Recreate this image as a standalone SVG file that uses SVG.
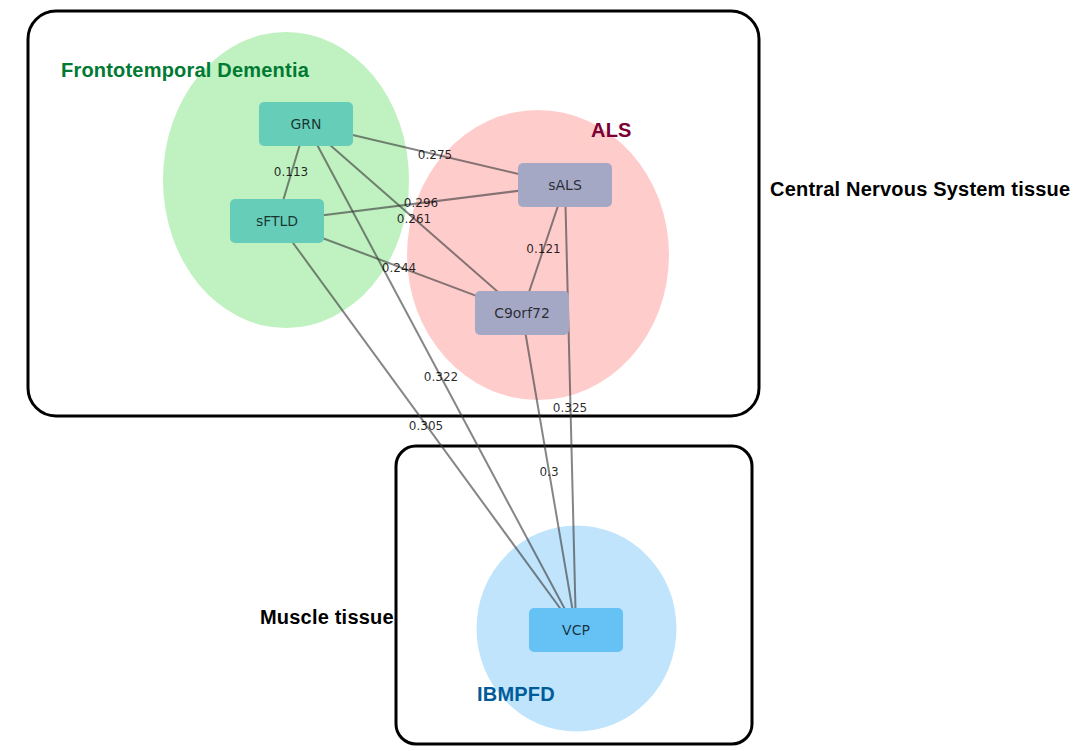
<svg xmlns="http://www.w3.org/2000/svg" width="1084" height="751" viewBox="0 0 1084 751">
<style>
.box{fill:none;stroke:#000;stroke-width:3}
.grp{font-family:"Liberation Sans",Arial,sans-serif;font-weight:bold;font-size:20px;letter-spacing:0.2px}
.edge{stroke:#3A3A3A;stroke-opacity:0.62;stroke-width:2;fill:none}
.elab{font-family:"DejaVu Sans",sans-serif;font-size:12px;fill:#000;fill-opacity:0.85;text-anchor:middle;dominant-baseline:central}
.nlab{font-family:"DejaVu Sans",sans-serif;font-size:14px;text-anchor:middle;dominant-baseline:central;fill:#000;fill-opacity:0.75}
.ftd{fill:#66CDB9}
.als{fill:#A5A8C5}
.ibm{fill:#66C2F5}
</style>
<rect width="1084" height="751" fill="#fff"/>
<g id="containers">
<rect class="box" x="28" y="11" width="731" height="405" rx="28"/>
<rect class="box" x="396" y="446" width="356" height="298" rx="20"/>
<text class="grp" x="770" y="196" fill="#000">Central Nervous System tissue</text>
<text class="grp" x="260" y="624" fill="#000">Muscle tissue</text>
</g>
<g id="groups">
<ellipse cx="286" cy="180" rx="123" ry="148" fill="#C0F1C1"/>
<ellipse cx="538" cy="255" rx="131" ry="145" fill="#FFCCCC"/>
<ellipse cx="576.5" cy="628.5" rx="100" ry="103" fill="#C0E4FC"/>
<text class="grp" x="61" y="77" fill="#007A33">Frontotemporal Dementia</text>
<text class="grp" x="591" y="137" fill="#7A0033">ALS</text>
<text class="grp" x="477" y="701" fill="#005C99">IBMPFD</text>
</g>
<g id="connectors">
<line class="edge" x1="306" y1="124" x2="277" y2="221"/>
<line class="edge" x1="306" y1="124" x2="565" y2="185"/>
<line class="edge" x1="306" y1="124" x2="522" y2="313"/>
<line class="edge" x1="306" y1="124" x2="576" y2="630"/>
<line class="edge" x1="277" y1="221" x2="565" y2="185"/>
<line class="edge" x1="277" y1="221" x2="522" y2="313"/>
<line class="edge" x1="277" y1="221" x2="576" y2="630"/>
<line class="edge" x1="565" y1="185" x2="522" y2="313"/>
<line class="edge" x1="565" y1="185" x2="576" y2="630"/>
<line class="edge" x1="522" y1="313" x2="576" y2="630"/>
<text class="elab" x="291" y="172">0.113</text>
<text class="elab" x="435" y="155">0.275</text>
<text class="elab" x="414" y="219">0.261</text>
<text class="elab" x="441" y="377">0.322</text>
<text class="elab" x="421" y="203">0.296</text>
<text class="elab" x="399" y="268">0.244</text>
<text class="elab" x="426" y="426">0.305</text>
<text class="elab" x="543.5" y="249">0.121</text>
<text class="elab" x="570" y="408">0.325</text>
<text class="elab" x="549" y="472">0.3</text>
</g>
<g id="node-GRN">
<rect class="ftd" x="259" y="102" width="94" height="44" rx="5"/>
<text class="nlab" x="306" y="124">GRN</text>
</g>
<g id="node-sFTLD">
<rect class="ftd" x="230" y="199" width="94" height="44" rx="5"/>
<text class="nlab" x="277" y="221">sFTLD</text>
</g>
<g id="node-sALS">
<rect class="als" x="518" y="163" width="94" height="44" rx="5"/>
<text class="nlab" x="565" y="185" fill="#4A0A1A">sALS</text>
</g>
<g id="node-C9orf72">
<rect class="als" x="475" y="291" width="94" height="44" rx="5"/>
<text class="nlab" x="522" y="313" fill="#4A0A1A">C9orf72</text>
</g>
<g id="node-VCP">
<rect class="ibm" x="529" y="608" width="94" height="44" rx="5"/>
<text class="nlab" x="576" y="630">VCP</text>
</g>
</svg>
